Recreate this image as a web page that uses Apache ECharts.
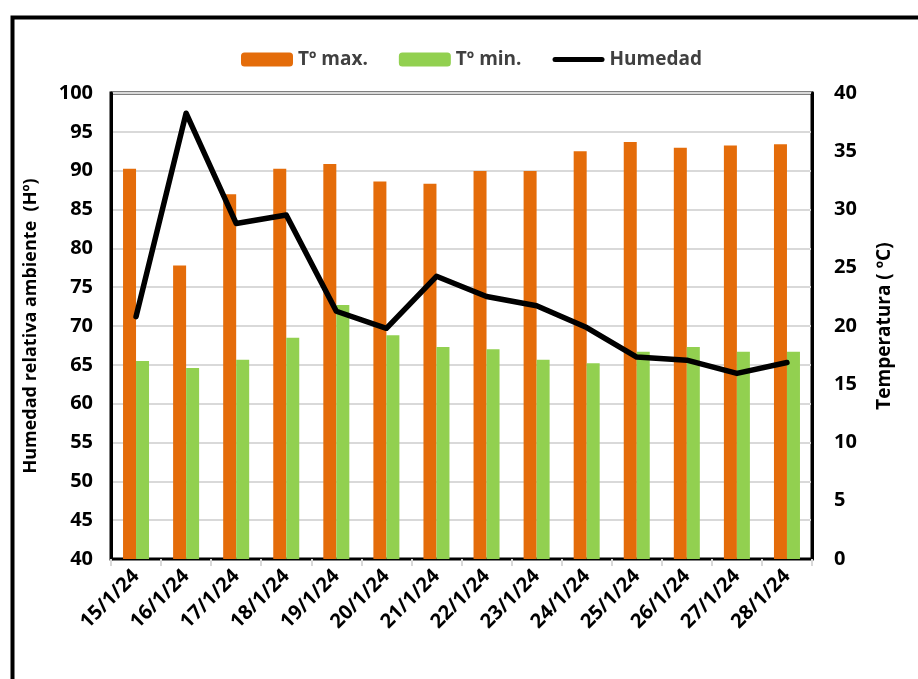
<!DOCTYPE html>
<html>
<head>
<meta charset="utf-8">
<script src="https://cdn.jsdelivr.net/npm/echarts@6/dist/echarts.min.js"></script>
<style>
html,body{margin:0;padding:0;background:#fff;}
#chart{width:918px;height:679px;}
</style>
</head>
<body>
<div id="chart"></div>
<script>
const categories = ['15/1/24','16/1/24','17/1/24','18/1/24','19/1/24','20/1/24','21/1/24','22/1/24','23/1/24','24/1/24','25/1/24','26/1/24','27/1/24','28/1/24'];
const tMax = [33.5, 25.2, 31.3, 33.5, 33.9, 32.4, 32.2, 33.3, 33.3, 35.0, 35.8, 35.3, 35.5, 35.6];
const tMin = [17.0, 16.4, 17.1, 19.0, 21.8, 19.2, 18.2, 18.0, 17.1, 16.8, 17.8, 18.2, 17.8, 17.8];
const humidity = [71.2, 97.4, 83.2, 84.3, 71.9, 69.7, 76.4, 73.8, 72.6, 69.8, 66.0, 65.6, 63.9, 65.3];

const FONT = '"Open Sans", "Liberation Sans", sans-serif';
const chart = echarts.init(document.getElementById('chart'), null, {renderer: 'canvas'});
chart.setOption({
  animation: false,
  backgroundColor: '#fff',
  textStyle: {fontFamily: FONT},
  graphic: [{
    type: 'rect', left: 10, top: 15, z: 100, silent: true,
    shape: {x: 0, y: 0, width: 1000, height: 1000},
    style: {fill: 'none', stroke: '#000', lineWidth: 4}
  }],
  legend: {
    top: 45, left: 236,
    itemWidth: 52, itemHeight: 14, itemGap: 31,
    textStyle: {fontFamily: FONT, fontSize: 19, fontWeight: 'bold', color: '#404040'},
    data: [
      {name: 'Tº max.'},
      {name: 'Tº min.'},
      {name: 'Humedad', icon: 'path://M2.5,0 L49.5,0 A2.5,2.5 0 0 1 49.5,5 L2.5,5 A2.5,2.5 0 0 1 2.5,0 Z'}
    ]
  },
  grid: {
    left: 111, right: 106, top: 93, bottom: 120,
    show: true, borderColor: '#000', borderWidth: 3, backgroundColor: 'transparent'
  },
  xAxis: {
    type: 'category',
    data: categories,
    axisLine: {show: true, lineStyle: {color: '#000', width: 2}},
    axisTick: {show: true, alignWithLabel: false, length: 7, lineStyle: {color: '#d9d9d9', width: 2}},
    axisLabel: {rotate: 45, margin: 14, fontFamily: FONT, fontSize: 20, fontWeight: 'bold', color: '#000', interval: 0}
  },
  yAxis: [{
    type: 'value', min: 40, max: 100, interval: 5,
    name: 'Humedad relativa ambiente  (Hº)',
    nameLocation: 'middle', nameGap: 71, nameRotate: 90,
    nameTextStyle: {fontFamily: FONT, fontSize: 18, fontWeight: 'bold', color: '#000'},
    axisLine: {show: true, lineStyle: {color: '#000', width: 3}},
    axisTick: {show: false},
    axisLabel: {margin: 18, fontFamily: FONT, fontSize: 20, fontWeight: 'bold', color: '#000'},
    splitLine: {show: true, lineStyle: {color: '#d9d9d9', width: 2}}
  }, {
    type: 'value', min: 0, max: 40, interval: 5, position: 'right',
    name: 'Temperatura ( ºC)',
    nameLocation: 'middle', nameGap: 63, nameRotate: 90,
    nameTextStyle: {fontFamily: FONT, fontSize: 19, fontWeight: 'bold', color: '#000'},
    axisLine: {show: true, lineStyle: {color: '#000', width: 3}},
    axisTick: {show: false},
    axisLabel: {margin: 22, fontFamily: FONT, fontSize: 20, fontWeight: 'bold', color: '#000'},
    splitLine: {show: false}
  }],
  series: [{
    name: 'Tº max.', type: 'bar', yAxisIndex: 1, data: tMax,
    barWidth: 13, barGap: '0%',
    itemStyle: {color: '#E46C0A'}
  }, {
    name: 'Tº min.', type: 'bar', yAxisIndex: 1, data: tMin,
    barWidth: 13, barGap: '0%',
    itemStyle: {color: '#92D050'}
  }, {
    name: 'Humedad', type: 'line', yAxisIndex: 0, data: humidity,
    symbol: 'none', smooth: false, z: 5,
    lineStyle: {color: '#000', width: 5.5, cap: 'round', join: 'round'},
    itemStyle: {color: '#000'}
  }]
});
</script>
</body>
</html>
